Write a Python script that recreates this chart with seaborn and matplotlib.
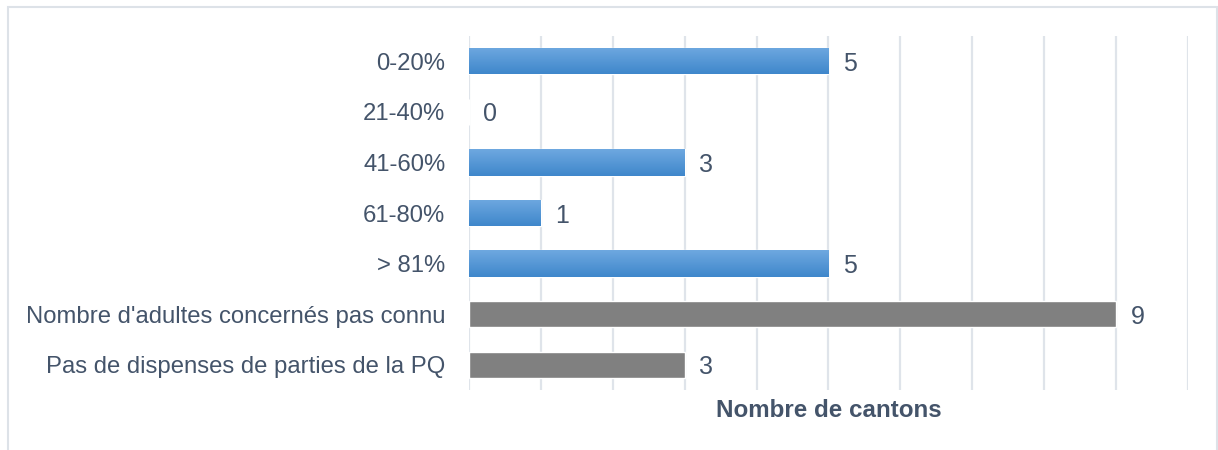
import numpy as np
import pandas as pd
import matplotlib
matplotlib.use("Agg")
import matplotlib.pyplot as plt
from matplotlib.patches import Rectangle
from matplotlib.colors import LinearSegmentedColormap
import seaborn as sns

CATEGORIES = [
    "0-20%",
    "21-40%",
    "41-60%",
    "61-80%",
    "> 81%",
    "Nombre d'adultes concernés pas connu",
    "Pas de dispenses de parties de la PQ",
]
VALUES = [5, 0, 3, 1, 5, 9, 3]
GROUP = ["share", "share", "share", "share", "share", "other", "other"]

TEXT_COLOR = "#44546a"
GRID_COLOR = "#dfe4ea"
BLUE = "#5499dc"
GRAY = "#808080"

df = pd.DataFrame({"cat": CATEGORIES, "val": VALUES, "group": GROUP})

sns.set_style("white")
plt.rcParams["font.family"] = ["Liberation Sans", "DejaVu Sans"]

fig = plt.figure(figsize=(12.18, 4.5), dpi=100)
ax = fig.add_axes([0.385, 0.1333, 0.5904, 0.7867])

sns.barplot(
    data=df, x="val", y="cat", hue="group",
    palette={"share": BLUE, "other": GRAY},
    orient="h", width=0.52, dodge=False, legend=False, ax=ax,
)

# vertical gradient on the blue bars
blue_cmap = LinearSegmentedColormap.from_list("b", ["#6ea8e0", "#3f87cb"])
grad = np.linspace(0, 1, 64).reshape(-1, 1)
for bar, grp in zip(sorted(ax.patches, key=lambda p: p.get_y()), df["group"]):
    w = bar.get_width()
    if grp == "share" and w > 0:
        y0, h = bar.get_y(), bar.get_height()
        im = ax.imshow(grad, cmap=blue_cmap, aspect="auto",
                       extent=(0, w, y0 + h, y0), zorder=bar.get_zorder() + 0.1)
        im.set_clip_path(bar)

for i, v in enumerate(VALUES):
    ax.text(v + 0.2, i, str(v), va="center_baseline", ha="left",
            fontsize=18, color=TEXT_COLOR)

ax.set_xlim(0, 10)
ax.set_ylim(6.5, -0.5)
ax.set_xticks(range(0, 11))
ax.set_xticklabels([])
ax.tick_params(axis="x", length=0)
ax.tick_params(axis="y", length=0, pad=17, labelsize=17.2, labelcolor=TEXT_COLOR)
ax.grid(axis="x", color=GRID_COLOR, linewidth=1.6)
ax.set_axisbelow(True)
for s in ax.spines.values():
    s.set_visible(False)

ax.set_ylabel("")
ax.set_xlabel("Nombre de cantons", fontsize=17.4, fontweight="bold",
              color=TEXT_COLOR, labelpad=3)

fig.patches.append(Rectangle((8 / 1218, -0.05), 1209 / 1218, 1.05 - 7 / 450,
                             transform=fig.transFigure, fill=False,
                             edgecolor="#dde2e8", linewidth=1.5))

fig.savefig("out.png", dpi=100)
